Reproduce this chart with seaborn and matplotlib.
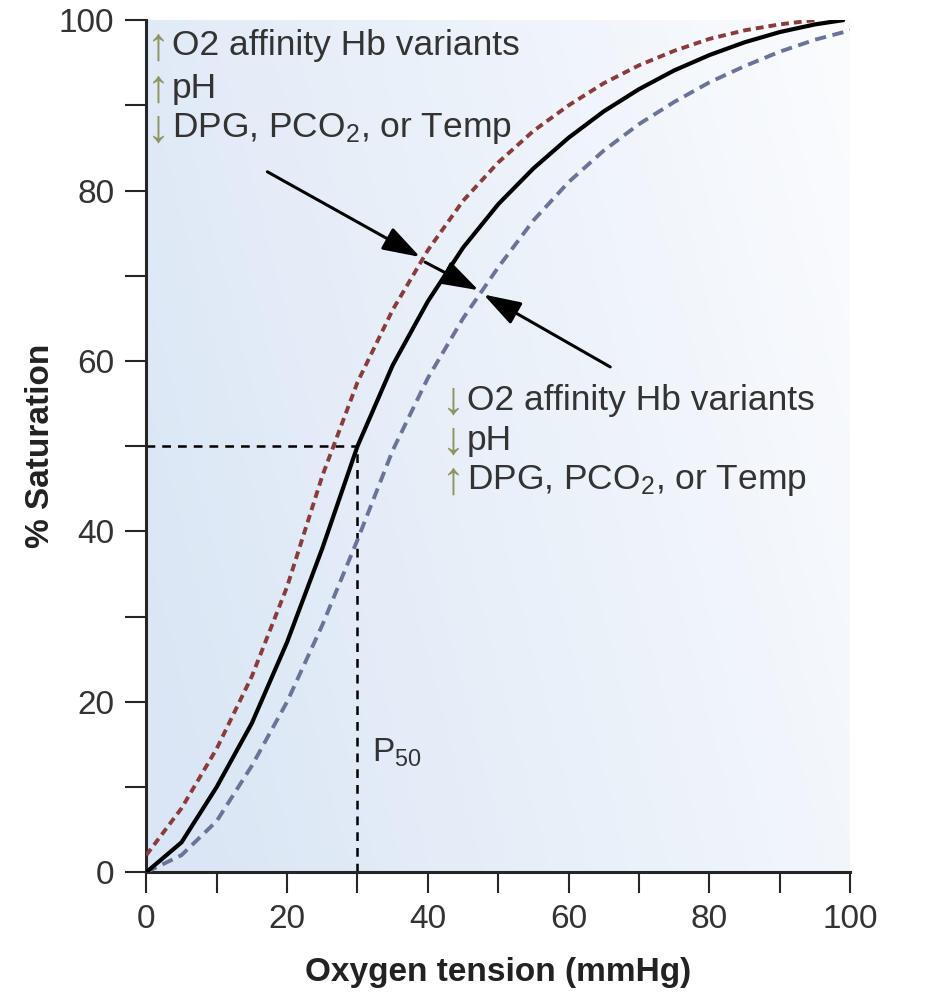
import matplotlib
matplotlib.use("Agg")
import matplotlib.pyplot as plt
import seaborn as sns
import pandas as pd
import numpy as np

# Curves (oxygen tension in mmHg, % saturation)
normal_x = [0, 5, 10, 15, 20, 25, 30, 35, 40, 45, 50, 55, 60, 65, 70, 75, 80, 85, 90, 95, 99]
normal_y = [0, 3.5, 10, 17.5, 27, 38, 50, 59.5, 67, 73.3, 78.4, 82.6, 86.2, 89.3, 91.9, 94.1, 95.9, 97.4, 98.6, 99.5, 100]

left_x = [0, 5, 10, 15, 20, 25, 30, 35, 40, 45, 50, 55, 60, 65, 70, 75, 80, 85, 90, 95]
left_y = [2, 7.5, 14.5, 23, 33.5, 46.5, 57.5, 66, 73, 78.8, 83.3, 87, 90, 92.6, 94.7, 96.4, 97.8, 98.8, 99.5, 100]

right_x = [0, 5, 10, 15, 20, 25, 30, 35, 40, 45, 50, 55, 60, 65, 70, 75, 80, 85, 90, 95, 100]
right_y = [0, 2, 6, 12.5, 20, 29, 39, 49.5, 58, 65, 71, 76.5, 81, 84.7, 87.8, 90.4, 92.7, 94.6, 96.3, 97.7, 98.8]

p50 = 30
x_ticks = list(range(0, 101, 10))
x_labels = ["0", "", "20", "", "40", "", "60", "", "80", "", "100"]
y_ticks = list(range(0, 101, 10))
y_labels = ["0", "", "20", "", "40", "", "60", "", "80", "", "100"]

top_text = ["\u2191", "O2 affinity Hb variants", "\u2191", "pH", "\u2193", "DPG, PCO$_2$, or Temp"]
bottom_text = ["\u2193", "O2 affinity Hb variants", "\u2193", "pH", "\u2191", "DPG, PCO$_2$, or Temp"]

sns.set_style("ticks")
plt.rcParams['font.family'] = ['Liberation Sans', 'DejaVu Sans']
plt.rcParams['mathtext.fontset'] = 'custom'
plt.rcParams['mathtext.rm'] = 'Liberation Sans'
plt.rcParams['mathtext.it'] = 'Liberation Sans'

fig = plt.figure(figsize=(9.5, 10.06), dpi=100)
ax = fig.add_axes([0.154, 0.133, 0.741, 0.847])

# background gradient (light blue on the left fading to white)
gx, gy = np.meshgrid(np.linspace(0, 1, 200), np.linspace(0, 1, 200))
w = np.clip((1 - gx) * 0.8 + (1 - gy) * 0.25, 0, 1)
blue = np.array([218, 230, 245]) / 255
white = np.array([251, 252, 254]) / 255
img = white + (blue - white) * w[..., None]
ax.imshow(img, extent=[0, 100, 0, 100], origin="lower", aspect="auto", zorder=0)

df_normal = pd.DataFrame({"x": normal_x, "y": normal_y})
df_left = pd.DataFrame({"x": left_x, "y": left_y})
df_right = pd.DataFrame({"x": right_x, "y": right_y})

sns.lineplot(data=df_left, x="x", y="y", ax=ax, color="#8a3b3b", lw=2.8,
             linestyle=(0, (2.0, 1.3)), zorder=3)
sns.lineplot(data=df_right, x="x", y="y", ax=ax, color="#6b7398", lw=2.8,
             linestyle=(0, (2.9, 1.7)), zorder=3)
sns.lineplot(data=df_normal, x="x", y="y", ax=ax, color="black", lw=3.0, zorder=4)

# P50 guide lines
ax.plot([0, p50], [50, 50], color="black", lw=1.8, linestyle=(0, (3.5, 2.8)), zorder=2)
ax.plot([p50, p50], [0, 50], color="black", lw=1.8, linestyle=(0, (3.5, 2.8)), zorder=2)
ax.text(p50 + 2.1, 13, "P$_{50}$", fontsize=24, color="#333333")

# arrows
arrow_kw = dict(arrowstyle="-|>,head_length=2.3,head_width=0.75", color="black", lw=2.2,
                shrinkA=0, shrinkB=0, mutation_scale=10)
ax.annotate("", xy=(38.9, 72.2), xytext=(17.2, 82.2), arrowprops=arrow_kw, zorder=5)
ax.annotate("", xy=(47.2, 68.3), xytext=(39.6, 71.6), arrowprops=arrow_kw, zorder=5)
ax.annotate("", xy=(47.9, 67.8), xytext=(65.9, 59.3), arrowprops=arrow_kw, zorder=5)

# text blocks
arrow_col = "#8c9460"
text_col = "#333333"
fs = 25.5
afs = 33
for i, yv in enumerate([97.0, 92.0, 87.3]):
    ax.text(3.4, yv - 0.2, top_text[2 * i], fontsize=afs, color=arrow_col, va="center", ha="right")
    ax.text(3.6, yv, top_text[2 * i + 1], fontsize=fs, color=text_col, va="center")
for i, yv in enumerate([55.4, 50.7, 46.0]):
    ax.text(45.3, yv - 0.2, bottom_text[2 * i], fontsize=afs, color=arrow_col, va="center", ha="right")
    ax.text(45.5, yv, bottom_text[2 * i + 1], fontsize=fs, color=text_col, va="center")

ax.set_xlim(0, 100)
ax.set_ylim(0, 100)
ax.set_xticks(x_ticks)
ax.set_xticklabels(x_labels, fontsize=24, color="#333333")
ax.set_yticks(y_ticks)
ax.set_yticklabels(y_labels, fontsize=24, color="#333333")
ax.tick_params(axis="both", length=15, width=1.5, direction="out", pad=8)
ax.set_xlabel("Oxygen tension (mmHg)", fontsize=24, fontweight="bold", color="#222222", labelpad=16)
ax.set_ylabel("% Saturation", fontsize=24, fontweight="bold", color="#222222", labelpad=2)
sns.despine(ax=ax)
for s in ["left", "bottom"]:
    ax.spines[s].set_linewidth(2.2)

fig.savefig("out.png", dpi=100)
